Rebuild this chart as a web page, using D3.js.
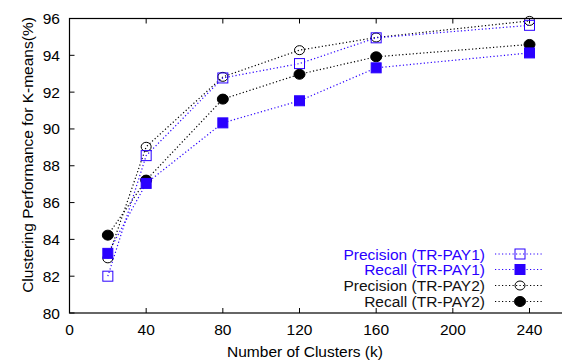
<!DOCTYPE html>
<html>
<head>
<meta charset="utf-8">
<script src="https://cdn.jsdelivr.net/npm/d3@7/dist/d3.min.js"></script>
<style>
  body { margin: 0; background: #fff; }
  svg { display: block; }
  text { font-family: "Liberation Sans", Arial, sans-serif; }
</style>
</head>
<body>
<script>
// data
var clusters = [20, 40, 80, 120, 160, 240];
var precision1 = [82.0, 88.55, 92.77, 93.55, 94.95, 95.63];
var recall1    = [83.24, 87.04, 90.33, 91.53, 93.32, 94.13];
var precision2 = [82.97, 89.03, 92.83, 94.28, 94.97, 95.87];
var recall2    = [84.23, 87.22, 91.62, 92.97, 93.92, 94.59];

var xTicks = [0, 40, 80, 120, 160, 200, 240];
var yTicks = [80, 82, 84, 86, 88, 90, 92, 94, 96];

var blue = "#2a00ff";

var series = [
  {name: "Precision (TR-PAY1)", values: precision1, color: blue, shape: "square", filled: false},
  {name: "Recall (TR-PAY1)", values: recall1, color: blue, shape: "square", filled: true},
  {name: "Precision (TR-PAY2)", values: precision2, color: "#000", shape: "circle", filled: false},
  {name: "Recall (TR-PAY2)", values: recall2, color: "#000", shape: "circle", filled: true}
];

var W = 562, H = 361;
var plotLeft = 69.5, plotTop = 18.5, plotBottom = 313;
var fs = 15.5;

var x = d3.scaleLinear().domain([0, 260]).range([plotLeft, plotLeft + 260 * 1.9167]);
var y = d3.scaleLinear().domain([80, 96]).range([plotBottom, plotTop]);

var svg = d3.select("body").append("svg")
  .attr("width", W)
  .attr("height", H);

// frame (right side runs off the picture)
svg.append("rect")
  .attr("x", x(0)).attr("y", y(96))
  .attr("width", x(260) - x(0)).attr("height", y(80) - y(96))
  .attr("fill", "none").attr("stroke", "#000").attr("stroke-width", 1.2);

// ticks, mirrored inside the frame
xTicks.forEach(function(t) {
  svg.append("line").attr("x1", x(t)).attr("x2", x(t))
    .attr("y1", plotBottom).attr("y2", plotBottom - 5).attr("stroke", "#000");
  svg.append("line").attr("x1", x(t)).attr("x2", x(t))
    .attr("y1", plotTop).attr("y2", plotTop + 5).attr("stroke", "#000");
  svg.append("text").attr("x", x(t)).attr("y", 335)
    .attr("text-anchor", "middle").attr("font-size", fs).text(t);
});
yTicks.forEach(function(t) {
  svg.append("line").attr("x1", plotLeft).attr("x2", plotLeft + 5)
    .attr("y1", y(t)).attr("y2", y(t)).attr("stroke", "#000");
  svg.append("text").attr("x", 60).attr("y", y(t) + 5.5)
    .attr("text-anchor", "end").attr("font-size", fs).text(t);
});

// axis titles
svg.append("text").attr("x", 305).attr("y", 357)
  .attr("text-anchor", "middle").attr("font-size", fs)
  .text("Number of Clusters (k)");
svg.append("text")
  .attr("transform", "translate(33,155) rotate(-90)")
  .attr("text-anchor", "middle").attr("font-size", fs)
  .text("Clustering Performance for K-means(%)");

var line = d3.line()
  .x(function(d, i) { return x(clusters[i]); })
  .y(function(d) { return y(d); });

function marker(g, cx, cy, s) {
  if (s.shape == "square") {
    g.append("rect")
      .attr("x", cx - 5).attr("y", cy - 5)
      .attr("width", 10).attr("height", 10)
      .attr("fill", s.filled ? s.color : "none")
      .attr("stroke", s.color).attr("stroke-width", 1);
  } else {
    g.append("ellipse")
      .attr("cx", cx).attr("cy", cy)
      .attr("rx", s.filled ? 5.5 : 5).attr("ry", s.filled ? 5 : 4.5)
      .attr("fill", s.filled ? s.color : "none")
      .attr("stroke", s.color).attr("stroke-width", 1);
  }
}

// draw in reverse so the blue series sit on top
series.slice().reverse().forEach(function(s) {
  var g = svg.append("g");
  g.append("path")
    .attr("d", line(s.values))
    .attr("fill", "none")
    .attr("stroke", s.color)
    .attr("stroke-width", 1.2)
    .attr("stroke-dasharray", "1.2,2.3");
  s.values.forEach(function(v, i) {
    marker(g, x(clusters[i]), y(v), s);
  });
});

// legend
var legY = [254, 269.5, 285.5, 301.5];
series.forEach(function(s, i) {
  var g = svg.append("g");
  g.append("text").attr("x", 485).attr("y", legY[i] + 5.5)
    .attr("text-anchor", "end").attr("font-size", fs)
    .attr("fill", s.color == blue ? blue : "#111")
    .text(s.name);
  g.append("line").attr("x1", 495).attr("x2", 544)
    .attr("y1", legY[i]).attr("y2", legY[i])
    .attr("stroke", s.color).attr("stroke-width", 1.2)
    .attr("stroke-dasharray", "1.2,2.3");
  marker(g, 520, legY[i], s);
});
</script>
</body>
</html>
